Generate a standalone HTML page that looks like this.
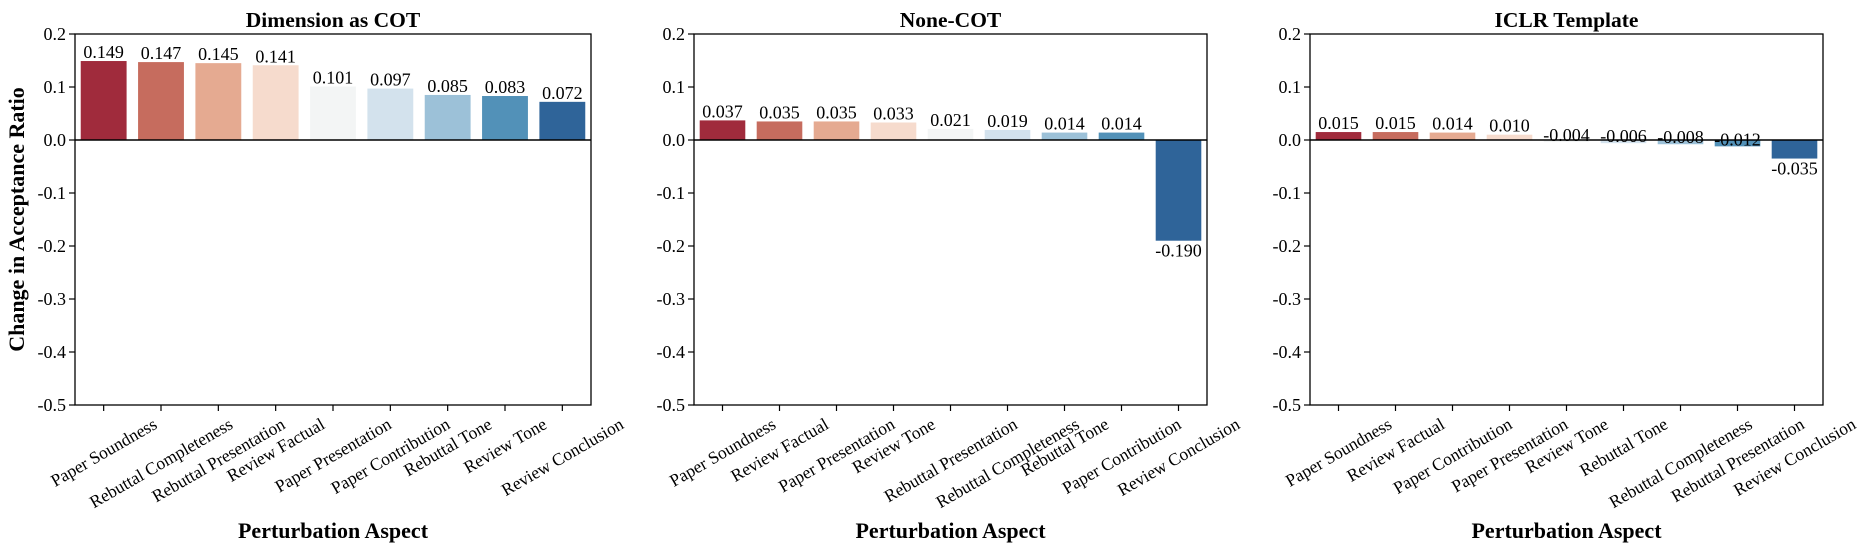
<!DOCTYPE html>
<html><head><meta charset="utf-8">
<style>
html,body{margin:0;padding:0;background:#fff;}
svg{display:block;font-family:"Liberation Serif","DejaVu Serif",serif;}
</style></head>
<body>
<svg id="chart" width="1869" height="550" viewBox="0 0 1869 550" xmlns="http://www.w3.org/2000/svg"></svg>
<script>
const titles = ["Dimension as COT", "None-COT", "ICLR Template"];
const cats1 = ["Paper Soundness","Rebuttal Completeness","Rebuttal Presentation","Review Factual","Paper Presentation","Paper Contribution","Rebuttal Tone","Review Tone","Review Conclusion"];
const vals1 = [0.149,0.147,0.145,0.141,0.101,0.097,0.085,0.083,0.072];
const cats2 = ["Paper Soundness","Review Factual","Paper Presentation","Review Tone","Rebuttal Presentation","Rebuttal Completeness","Rebuttal Tone","Paper Contribution","Review Conclusion"];
const vals2 = [0.037,0.035,0.035,0.033,0.021,0.019,0.014,0.014,-0.190];
const cats3 = ["Paper Soundness","Review Factual","Paper Contribution","Paper Presentation","Review Tone","Rebuttal Tone","Rebuttal Completeness","Rebuttal Presentation","Review Conclusion"];
const vals3 = [0.015,0.015,0.014,0.010,-0.004,-0.006,-0.008,-0.012,-0.035];
const yTicks = [0.2,0.1,0.0,-0.1,-0.2,-0.3,-0.4,-0.5];
const yTickLabels = ["0.2","0.1","0.0","-0.1","-0.2","-0.3","-0.4","-0.5"];
const palette = ["#a02b3c","#c66c5e","#e5aa91","#f6dbcd","#f3f5f5","#d3e2ed","#9cc1d8","#5291b8","#2f6499"];

const NS = "http://www.w3.org/2000/svg";
const svg = document.getElementById("chart");
function mk(tag, attrs, parent){
  const e = document.createElementNS(NS, tag);
  for (const k in attrs) e.setAttribute(k, attrs[k]);
  (parent||svg).appendChild(e);
  return e;
}
const panels = [
  {x0:75, x1:591, cats:cats1, vals:vals1},
  {x0:694, x1:1207, cats:cats2, vals:vals2},
  {x0:1310, x1:1823, cats:cats3, vals:vals3}
];
const yTop = 34, yBot = 405, yMax = 0.2, yMin = -0.5;
function yScale(v){ return yTop + (yMax - v) / (yMax - yMin) * (yBot - yTop); }
const S = Math.sin(Math.PI/6), C = Math.cos(Math.PI/6);

panels.forEach((p, pi) => {
  const g = mk("g", {});
  
  
  const band = (p.x1 - p.x0) / p.cats.length;
  const xScale = i => p.x0 + band * (i + 0.5);
  const bw = band * 0.8;
  const y0 = yScale(0);
  p.vals.forEach((v, i) => {
    const yv = yScale(v);
    const r = mk("rect", {x: xScale(i) - bw/2, y: Math.min(yv, y0), width: bw, height: Math.max(Math.abs(yv - y0), 0.5), fill: palette[i]}, g);
    
    
  });
  p.vals.forEach((v, i) => {
    const yv = yScale(v);
    let by;
    if (v >= 0) by = yv - 3;
    else if (v < -0.02) by = yv + 16;
    else by = yv - 1;
    const t = mk("text", {x: xScale(i), y: by, "text-anchor": "middle", "font-size": "18", fill: "#000"}, g);
    t.textContent = v.toFixed(3);
    
    
  });
  const zl = mk("line", {x1: p.x0, x2: p.x1, y1: y0, y2: y0, stroke: "#000", "stroke-width": 1.5}, g);
  
  
  const fr = mk("rect", {x: p.x0, y: yTop, width: p.x1 - p.x0, height: yBot - yTop, fill: "none", stroke: "#000", "stroke-width": 1.3}, g);
  
  
  yTicks.forEach((tv, k) => {
    const yy = yScale(tv);
    mk("line", {x1: p.x0 - 6, x2: p.x0, y1: yy, y2: yy, stroke: "#000", "stroke-width": 1.2}, g);
    const t = mk("text", {x: p.x0 - 9, y: yy + 6, "text-anchor": "end", "font-size": "18"}, g);
    t.textContent = yTickLabels[k];
    
    
  });
  p.cats.forEach((c, i) => {
    const xx = xScale(i);
    mk("line", {x1: xx, x2: xx, y1: yBot, y2: yBot + 6, stroke: "#000", "stroke-width": 1.2}, g);
    const t = mk("text", {x: xx, y: 0, "text-anchor": "middle", "dominant-baseline": "central", "font-size": "17.5"}, g);
    t.textContent = c;
    
    
    const w = t.getComputedTextLength();
    const h = 17;
    const boxH = w * S + h * C;
    const cy = yBot + 10 + boxH / 2;
    t.setAttribute("y", cy);
    t.setAttribute("transform", "rotate(-30 " + xx + " " + cy + ")");
  });
  const tt = mk("text", {x: (p.x0 + p.x1)/2, y: 27, "text-anchor": "middle", "font-size": "21.5", "font-weight": "bold"}, g);
  tt.textContent = titles[pi];
  
  
  const xt = mk("text", {x: (p.x0 + p.x1)/2, y: 538, "text-anchor": "middle", "font-size": "22", "font-weight": "bold"}, g);
  xt.textContent = "Perturbation Aspect";
  
  
});
const yt = mk("text", {x: 0, y: 0, "text-anchor": "middle", "font-size": "22", "font-weight": "bold", transform: "translate(24 " + ((yTop + yBot)/2) + ") rotate(-90)"});
yt.textContent = "Change in Acceptance Ratio";


</script>
</body></html>
